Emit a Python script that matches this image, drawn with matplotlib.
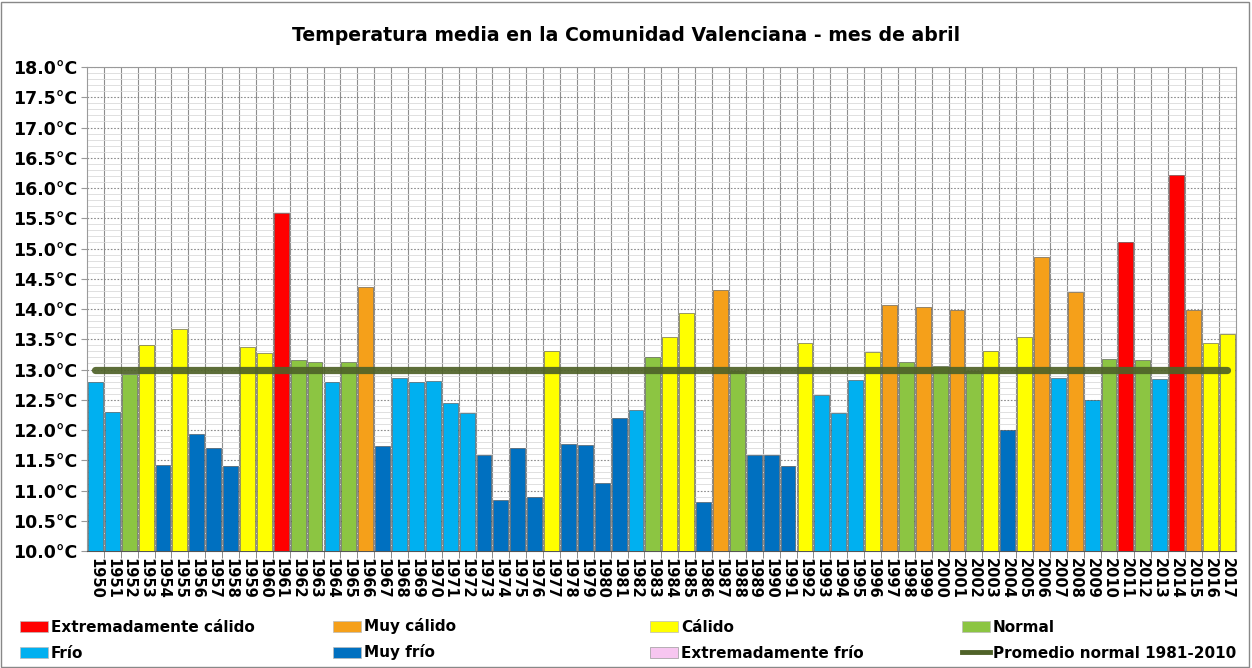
"""
Temperatura media de abril en la Comunidad Valenciana, 1950-2017.

Bars coloured by class, with the 1981-2010 normal drawn as a thick line.
"""

import matplotlib.pyplot as plt
import numpy as np
from matplotlib.lines import Line2D
from matplotlib.patches import Rectangle
from matplotlib.ticker import FixedLocator, MultipleLocator


YEARS = list(range(1950, 2018))

TEMPS = [
    12.79, 12.29, 12.92, 13.40, 11.42, 13.67, 11.94, 11.70, 11.40, 13.38,
    13.28, 15.58, 13.15, 13.12, 12.79, 13.13, 14.36, 11.73, 12.86, 12.79,
    12.81, 12.44, 12.28, 11.59, 10.85, 11.70, 10.90, 13.31, 11.77, 11.76,
    11.12, 12.20, 12.33, 13.21, 13.54, 13.93, 10.81, 14.32, 12.97, 11.58,
    11.59, 11.40, 13.44, 12.58, 12.28, 12.83, 13.29, 14.06, 13.12, 14.03,
    13.05, 13.98, 12.98, 13.31, 12.00, 13.54, 14.86, 12.86, 14.28, 12.49,
    13.18, 15.11, 13.15, 12.85, 16.22, 13.98, 13.44, 13.58,
]

CLASSES = [
    "F", "F", "N", "C", "MF", "C", "MF", "MF", "MF", "C",
    "C", "EC", "N", "N", "F", "N", "MC", "MF", "F", "F",
    "F", "F", "F", "MF", "MF", "MF", "MF", "C", "MF", "MF",
    "MF", "MF", "F", "N", "C", "C", "MF", "MC", "N", "MF",
    "MF", "MF", "C", "F", "F", "F", "C", "MC", "N", "MC",
    "N", "MC", "N", "C", "MF", "C", "MC", "F", "MC", "F",
    "N", "EC", "N", "F", "EC", "MC", "C", "C",
]

NORMAL_1981_2010 = 13.0
NORMAL_LABEL = "Promedio normal 1981-2010"

CLASS_LABELS = {
    "EC": "Extremadamente cálido",
    "MC": "Muy cálido",
    "C": "Cálido",
    "N": "Normal",
    "F": "Frío",
    "MF": "Muy frío",
    "EF": "Extremadamente frío",
}

CLASS_COLORS = {
    "EC": "#FF0000",
    "MC": "#F5A01A",
    "C": "#FFFF00",
    "N": "#8CC542",
    "F": "#00B0F0",
    "MF": "#0070C0",
    "EF": "#F7C6F0",
}

LINE_COLOR = "#4F6228"
FIG_W, FIG_H = 1252, 668


def legend_entry(fig, px, py, label, color=None, line=False):
    """Draw one legend key at pixel position (px = key left, py = row centre from top)."""
    key_w, key_h = 28, 11
    fx = px / FIG_W
    fy = 1 - py / FIG_H
    if line:
        fig.add_artist(Line2D([fx, (px + key_w) / FIG_W], [fy, fy], transform=fig.transFigure,
                              color=LINE_COLOR, linewidth=3.5))
    else:
        edge = "#999999" if color == CLASS_COLORS["EF"] else "#BBBBBB"
        fig.add_artist(Rectangle((fx, fy - key_h / 2 / FIG_H), key_w / FIG_W, key_h / FIG_H,
                                 transform=fig.transFigure, facecolor=color,
                                 edgecolor=edge, linewidth=0.5))
    fig.text((px + key_w + 3) / FIG_W, 1 - (py + 5.5) / FIG_H, label, ha="left",
             va="baseline", fontsize=11, fontweight="bold")


def main() -> None:
    plt.rcParams["font.family"] = ["DejaVu Sans"]

    fig = plt.figure(figsize=(FIG_W / 100, FIG_H / 100), dpi=100)
    ax = fig.add_axes([0.0695, 0.1751, 0.9175, 0.7246])

    x = np.arange(len(YEARS))
    colors = [CLASS_COLORS[c] for c in CLASSES]

    # grid: light minor lines every 0.1, dotted major every 0.5
    ax.set_ylim(10.0, 18.0)
    ax.set_xlim(-0.5, len(YEARS) - 0.5)
    ax.yaxis.set_major_locator(MultipleLocator(0.5))
    ax.yaxis.set_minor_locator(MultipleLocator(0.1))
    ax.xaxis.set_major_locator(FixedLocator(x))
    ax.xaxis.set_minor_locator(FixedLocator(x[:-1] + 0.5))
    ax.grid(which="minor", axis="y", color="#DADADA", linewidth=0.6)
    ax.grid(which="major", axis="y", color="#8C8C8C", linewidth=0.8, linestyle=(0, (1.5, 1.5)))
    ax.grid(which="minor", axis="x", color="#8E8E8E", linewidth=0.8)
    ax.set_axisbelow(True)

    ax.bar(x, np.array(TEMPS) - 10.0, bottom=10.0, width=0.88, color=colors,
           edgecolor="#4A4A4A", linewidth=0.4, zorder=3)

    ax.plot(x, [NORMAL_1981_2010] * len(YEARS), color=LINE_COLOR, linewidth=5.2,
            alpha=0.92, solid_capstyle="round", zorder=4)

    ax.set_xticks(x)
    ax.set_xticklabels([str(y) for y in YEARS], rotation=270, fontsize=10.5,
                       fontweight="bold")
    ax.set_yticks(np.arange(10.0, 18.01, 0.5))
    ax.set_yticklabels([f"{v:.1f}°C" for v in np.arange(10.0, 18.01, 0.5)],
                       fontsize=12.5, fontweight="bold")
    ax.tick_params(axis="x", which="major", length=0, pad=5)
    ax.tick_params(axis="x", which="minor", length=5, color="#777777")
    ax.tick_params(axis="y", which="major", length=4, color="#999999", pad=3)
    ax.tick_params(axis="y", which="minor", length=0)
    for spine in ax.spines.values():
        spine.set_color("#9A9A9A")
        spine.set_linewidth(0.8)
    ax.spines["bottom"].set_color("#555555")

    fig.text(0.5, 0.947, "Temperatura media en la Comunidad Valenciana - mes de abril",
             ha="center", va="center", fontsize=13.6, fontweight="bold")

    # legend: four fixed columns, two rows
    col_px = [20, 333, 650, 962]
    row_py = [626, 652]
    top_row = ["EC", "MC", "C", "N"]
    bottom_row = ["F", "MF", "EF"]
    for px, key in zip(col_px, top_row):
        legend_entry(fig, px, row_py[0], CLASS_LABELS[key], CLASS_COLORS[key])
    for px, key in zip(col_px, bottom_row):
        legend_entry(fig, px, row_py[1], CLASS_LABELS[key], CLASS_COLORS[key])
    legend_entry(fig, col_px[3], row_py[1], NORMAL_LABEL, line=True)

    fig.add_artist(Rectangle((0.001, 0.002), 0.997, 0.995, transform=fig.transFigure,
                             fill=False, edgecolor="#888888", linewidth=1.0))

    fig.savefig("out.png", dpi=100, facecolor="white")
    plt.close(fig)


if __name__ == "__main__":
    main()
